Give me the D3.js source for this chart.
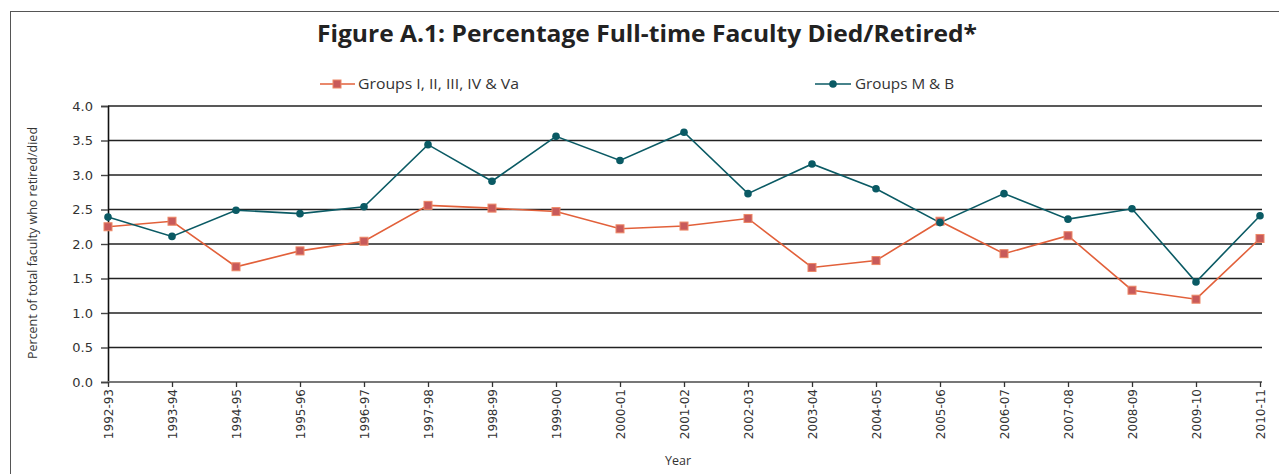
<!DOCTYPE html>
<html>
<head>
<meta charset="utf-8">
<script src="https://cdn.jsdelivr.net/npm/d3@7"></script>
<style>
  body { margin: 0; background: #fff; }
  svg { display: block; }
</style>
</head>
<body>
<svg id="chart"></svg>
<script>
const years = ["1992-93", "1993-94", "1994-95", "1995-96", "1996-97", "1997-98", "1998-99",
  "1999-00", "2000-01", "2001-02", "2002-03", "2003-04", "2004-05", "2005-06", "2006-07",
  "2007-08", "2008-09", "2009-10", "2010-11"];
const groupsMain = [2.25, 2.33, 1.67, 1.90, 2.04, 2.56, 2.52, 2.47, 2.22, 2.26, 2.37, 1.66,
  1.76, 2.33, 1.86, 2.12, 1.33, 1.20, 2.08];
const groupsMB = [2.39, 2.11, 2.49, 2.44, 2.54, 3.44, 2.91, 3.56, 3.21, 3.62, 2.73, 3.16,
  2.80, 2.31, 2.73, 2.36, 2.51, 1.45, 2.41];
const yTicks = [0, 0.5, 1.0, 1.5, 2.0, 2.5, 3.0, 3.5, 4.0];

const width = 1279, height = 474;
const svg = d3.select("#chart").attr("width", width).attr("height", height);

// outer frame (runs off the right and bottom edge)
svg.append("rect")
  .attr("x", 10.5).attr("y", 11.5)
  .attr("width", 1300).attr("height", 500)
  .attr("fill", "none").attr("stroke", "#555").attr("stroke-width", 1);

const x = d3.scalePoint().domain(years).range([108, 1260]);
const y = d3.scaleLinear().domain([0, 4]).range([382, 106]);

// title
svg.append("text")
  .attr("x", 647).attr("y", 42)
  .attr("text-anchor", "middle")
  .attr("font-family", "Open Sans")
  .attr("font-weight", "bold")
  .attr("font-size", 23)
  .attr("fill", "#222")
  .attr("textLength", 660).attr("lengthAdjust", "spacingAndGlyphs")
  .text("Figure A.1: Percentage Full-time Faculty Died/Retired*");

// gridlines
svg.append("g")
  .selectAll("line")
  .data(yTicks.filter(d => d > 0))
  .enter()
  .append("line")
  .attr("x1", 108).attr("x2", 1262)
  .attr("y1", d => y(d)).attr("y2", d => y(d))
  .attr("stroke", "#222").attr("stroke-width", 1.4);

// y axis
const yAxis = svg.append("g")
  .attr("transform", "translate(108,0)")
  .call(d3.axisLeft(y).tickValues(yTicks).tickFormat(d3.format(".1f")).tickSize(7).tickPadding(8));
yAxis.select(".domain").attr("stroke", "#111").attr("stroke-width", 1.6);
yAxis.selectAll(".tick line").attr("stroke", "#444").attr("stroke-width", 1.4);
yAxis.selectAll("text")
  .attr("font-family", "DejaVu Sans")
  .attr("font-size", 13)
  .attr("fill", "#333");

// x axis
const xAxis = svg.append("g")
  .attr("transform", "translate(0,382)")
  .call(d3.axisBottom(x).tickSize(5).tickSizeOuter(0));
xAxis.select(".domain").attr("stroke", "#777").attr("stroke-width", 2.2)
  .attr("d", "M108,0H1262");
xAxis.selectAll(".tick line").attr("stroke", "#333").attr("stroke-width", 1.3);
xAxis.selectAll("text")
  .attr("font-family", "DejaVu Sans")
  .attr("font-size", 12)
  .attr("fill", "#333")
  .attr("transform", "rotate(-90)")
  .attr("text-anchor", "end")
  .attr("x", -7).attr("y", 0).attr("dy", "0.35em");

// axis titles
svg.append("text")
  .attr("transform", "translate(37,243) rotate(-90)")
  .attr("text-anchor", "middle")
  .attr("font-family", "Open Sans")
  .attr("font-size", 12)
  .attr("fill", "#333")
  .attr("textLength", 232).attr("lengthAdjust", "spacingAndGlyphs")
  .text("Percent of total faculty who retired/died");

svg.append("text")
  .attr("x", 678).attr("y", 465)
  .attr("text-anchor", "middle")
  .attr("font-family", "Open Sans")
  .attr("font-size", 12.5)
  .attr("fill", "#333")
  .text("Year");

// series
const orange = "#E2603A", orangeFill = "#C85A5A", teal = "#0A5A64";
const line = d3.line().x((d, i) => x(years[i])).y(d => y(d));

svg.append("path")
  .datum(groupsMain)
  .attr("d", line)
  .attr("fill", "none").attr("stroke", orange).attr("stroke-width", 1.6);

svg.append("path")
  .datum(groupsMB)
  .attr("d", line)
  .attr("fill", "none").attr("stroke", teal).attr("stroke-width", 1.6);

svg.append("g")
  .selectAll("rect")
  .data(groupsMain)
  .enter()
  .append("rect")
  .attr("x", (d, i) => x(years[i]) - 4)
  .attr("y", d => y(d) - 4)
  .attr("width", 8).attr("height", 8)
  .attr("fill", orangeFill).attr("stroke", "#EE8866").attr("stroke-width", 1);

svg.append("g")
  .selectAll("circle")
  .data(groupsMB)
  .enter()
  .append("circle")
  .attr("cx", (d, i) => x(years[i]))
  .attr("cy", d => y(d))
  .attr("r", 3.8)
  .attr("fill", teal);

// legend
const legend = svg.append("g").attr("font-family", "Open Sans").attr("font-size", 14).attr("fill", "#333");
legend.append("line").attr("x1", 320).attr("x2", 355).attr("y1", 84).attr("y2", 84)
  .attr("stroke", orange).attr("stroke-width", 1.6);
legend.append("rect").attr("x", 333).attr("y", 80).attr("width", 8).attr("height", 8)
  .attr("fill", orangeFill).attr("stroke", "#EE8866");
legend.append("text").attr("x", 358).attr("y", 89)
  .attr("textLength", 161).attr("lengthAdjust", "spacingAndGlyphs")
  .text("Groups I, II, III, IV & Va");

legend.append("line").attr("x1", 815).attr("x2", 851).attr("y1", 84).attr("y2", 84)
  .attr("stroke", teal).attr("stroke-width", 1.6);
legend.append("circle").attr("cx", 833).attr("cy", 84).attr("r", 3.8).attr("fill", teal);
legend.append("text").attr("x", 855).attr("y", 89)
  .attr("textLength", 99).attr("lengthAdjust", "spacingAndGlyphs")
  .text("Groups M & B");
</script>
</body>
</html>
